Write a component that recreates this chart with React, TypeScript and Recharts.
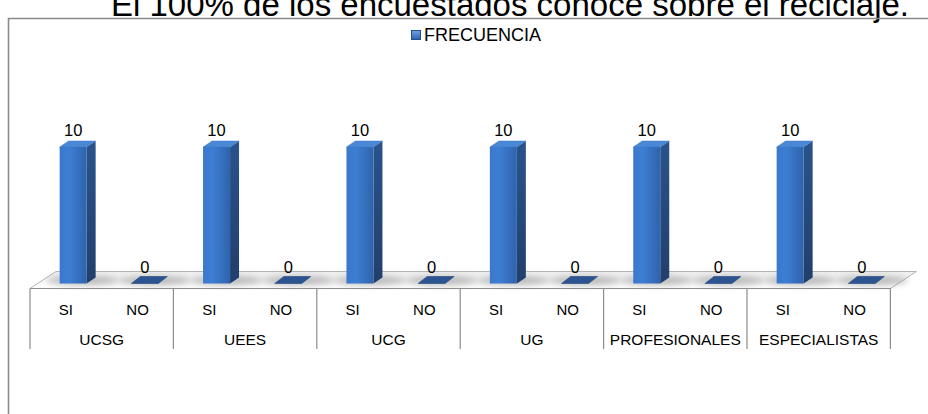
import React from 'react';
import { BarChart, Bar, XAxis, YAxis, Legend, LabelList, Customized } from 'recharts';

// Survey answers per group
const groups = ['UCSG', 'UEES', 'UCG', 'UG', 'PROFESIONALES', 'ESPECIALISTAS'];
const answers = ['SI', 'NO'];
const siValues = [10, 10, 10, 10, 10, 10];
const noValues = [0, 0, 0, 0, 0, 0];
const seriesName = 'FRECUENCIA';
const title = 'El 100% de los encuestados conoce sobre el reciclaje.';

const rows = groups.flatMap((g, i) => [
  { key: `${g}-${answers[0]}`, group: g, answer: answers[0], frecuencia: siValues[i] },
  { key: `${g}-${answers[1]}`, group: g, answer: answers[1], frecuencia: noValues[i] },
]);

// Layout
const W = 928;
const H = 414;
const PLOT_LEFT = 30;
const PLOT_RIGHT = 890.4;
const PLOT_TOP = 147;
const PLOT_BOTTOM = 283.5;
const LEGEND_H = 20;
const AXIS_H = 60;
const BAR_W = 27;
const BAR_SHIFT = 7.65;
const DEPTH_X = 9;
const DEPTH_Y = 6;
const SLAB_DX = 9;
const SLAB_DY = 7;
const FLOOR_FRONT = 288.5;
const FLOOR_DX = 26;
const FLOOR_DY = 17;
const TABLE_BOTTOM = 349;
const FONT = "'Liberation Sans', Arial, Helvetica, sans-serif";
const GRID = '#8c8c8c';

function Bar3D(props: any) {
  const { x, y, width, height } = props;
  const w = width;
  const fx = x + BAR_SHIFT;
  const by = y + height;
  const shadow = (
    <ellipse
      cx={fx + w / 2 + 10}
      cy={by - 3}
      rx={w * 1.35}
      ry={4.5}
      fill="#8f8f8f"
      opacity={0.6}
      filter="url(#floorBlur)"
    />
  );
  if (height < 0.5) {
    const slab = `${fx},${by} ${fx + SLAB_DX},${by - SLAB_DY} ${fx + w + SLAB_DX},${by - SLAB_DY} ${fx + w},${by}`;
    return (
      <g>
        {shadow}
        <polygon points={slab} fill="#2b5490" stroke="#23467a" strokeWidth={0.6} />
      </g>
    );
  }
  const side = `${fx + w},${y} ${fx + w + DEPTH_X},${y - DEPTH_Y} ${fx + w + DEPTH_X},${by - DEPTH_Y} ${fx + w},${by}`;
  const top = `${fx},${y} ${fx + DEPTH_X},${y - DEPTH_Y} ${fx + w + DEPTH_X},${y - DEPTH_Y} ${fx + w},${y}`;
  return (
    <g>
      {shadow}
      <polygon points={side} fill="url(#sideFill)" />
      <rect x={fx} y={y} width={w} height={height} fill="url(#frontFill)" />
      <polygon points={top} fill="#4a88d6" stroke="#3e7bc8" strokeWidth={0.5} />
    </g>
  );
}

function ValueLabel(props: any) {
  const { x, y, width, value } = props;
  return (
    <text
      x={x + BAR_SHIFT + width / 2}
      y={y - DEPTH_Y - 5}
      textAnchor="middle"
      fontFamily={FONT}
      fontSize={16.5}
      fill="#000"
    >
      {value}
    </text>
  );
}

function CategoryTick(props: any) {
  const { x, index } = props;
  const row = rows[index];
  if (!row) return null;
  const band = (PLOT_RIGHT - PLOT_LEFT) / rows.length;
  return (
    <g>
      <text x={x} y={315} textAnchor="middle" fontFamily={FONT} fontSize={15} fill="#000">
        {row.answer}
      </text>
      {index % 2 === 0 && (
        <>
          <text x={x + band / 2} y={345} textAnchor="middle" fontFamily={FONT} fontSize={15.5} fill="#000">
            {row.group}
          </text>
          <line x1={x - band / 2} x2={x - band / 2} y1={FLOOR_FRONT} y2={TABLE_BOTTOM} stroke={GRID} strokeWidth={1.2} />
        </>
      )}
      {index === rows.length - 1 && (
        <line x1={x + band / 2} x2={x + band / 2} y1={FLOOR_FRONT} y2={TABLE_BOTTOM} stroke={GRID} strokeWidth={1.2} />
      )}
    </g>
  );
}

// Title, outer frame and the floor plane under the bars
function Backdrop() {
  const floor = `${PLOT_LEFT},${FLOOR_FRONT} ${PLOT_LEFT + FLOOR_DX},${FLOOR_FRONT - FLOOR_DY} ${PLOT_RIGHT + FLOOR_DX},${FLOOR_FRONT - FLOOR_DY} ${PLOT_RIGHT},${FLOOR_FRONT}`;
  return (
    <g>
      <text x={510} y={16} textAnchor="middle" fontFamily={FONT} fontSize={33} fill="#000">
        {title}
      </text>
      <path d={`M8.5,${H} V18.5 H${W}`} fill="none" stroke="#8a8a8a" strokeWidth={1.6} />
      <polygon points={floor} fill="url(#floorFill)" stroke="#b4b4b4" strokeWidth={1} />
      <line x1={PLOT_LEFT} x2={PLOT_RIGHT} y1={FLOOR_FRONT} y2={FLOOR_FRONT} stroke={GRID} strokeWidth={1.2} />
    </g>
  );
}

function LegendContent() {
  return (
    <div style={{ display: 'flex', alignItems: 'center', height: LEGEND_H, fontFamily: FONT }}>
      <span
        style={{
          display: 'inline-block',
          width: 8,
          height: 8,
          background: 'linear-gradient(#6aa3e6, #2f64ad)',
          border: '0.5px solid #264f8a',
          marginRight: 3,
        }}
      />
      <span style={{ fontSize: 18, lineHeight: `${LEGEND_H}px`, color: '#000' }}>{seriesName}</span>
    </div>
  );
}

export default function App() {
  return (
    <div style={{ position: 'absolute', left: 0, top: 0, width: W, height: H, background: '#fff', overflow: 'hidden' }}>
      <BarChart
        width={W}
        height={H}
        data={rows}
        margin={{
          top: PLOT_TOP - LEGEND_H,
          right: W - PLOT_RIGHT,
          bottom: H - PLOT_BOTTOM - AXIS_H,
          left: PLOT_LEFT,
        }}
      >
        <defs>
          <linearGradient id="frontFill" x1="0" y1="0" x2="1" y2="0">
            <stop offset="0%" stopColor="#3a78cc" />
            <stop offset="35%" stopColor="#3d7ed3" />
            <stop offset="100%" stopColor="#2f63ab" />
          </linearGradient>
          <linearGradient id="sideFill" x1="0" y1="0" x2="0" y2="1">
            <stop offset="0%" stopColor="#2a538c" />
            <stop offset="100%" stopColor="#213f6c" />
          </linearGradient>
          <linearGradient id="floorFill" x1="0" y1="0" x2="0" y2="1">
            <stop offset="0%" stopColor="#efefef" />
            <stop offset="100%" stopColor="#ffffff" />
          </linearGradient>
          <filter id="floorBlur" x="-50%" y="-200%" width="200%" height="500%">
            <feGaussianBlur stdDeviation="3" />
          </filter>
        </defs>
        <Customized component={Backdrop} />
        <XAxis
          dataKey="key"
          height={AXIS_H}
          interval={0}
          axisLine={false}
          tickLine={false}
          tick={<CategoryTick />}
        />
        <YAxis hide domain={[0, 10]} />
        <Legend
          verticalAlign="top"
          height={LEGEND_H}
          content={<LegendContent />}
          wrapperStyle={{ top: 25, left: 411, width: 'auto' }}
        />
        <Bar
          dataKey="frecuencia"
          name={seriesName}
          barSize={BAR_W}
          shape={<Bar3D />}
          isAnimationActive={false}
        >
          <LabelList dataKey="frecuencia" content={<ValueLabel />} />
        </Bar>
      </BarChart>
    </div>
  );
}
